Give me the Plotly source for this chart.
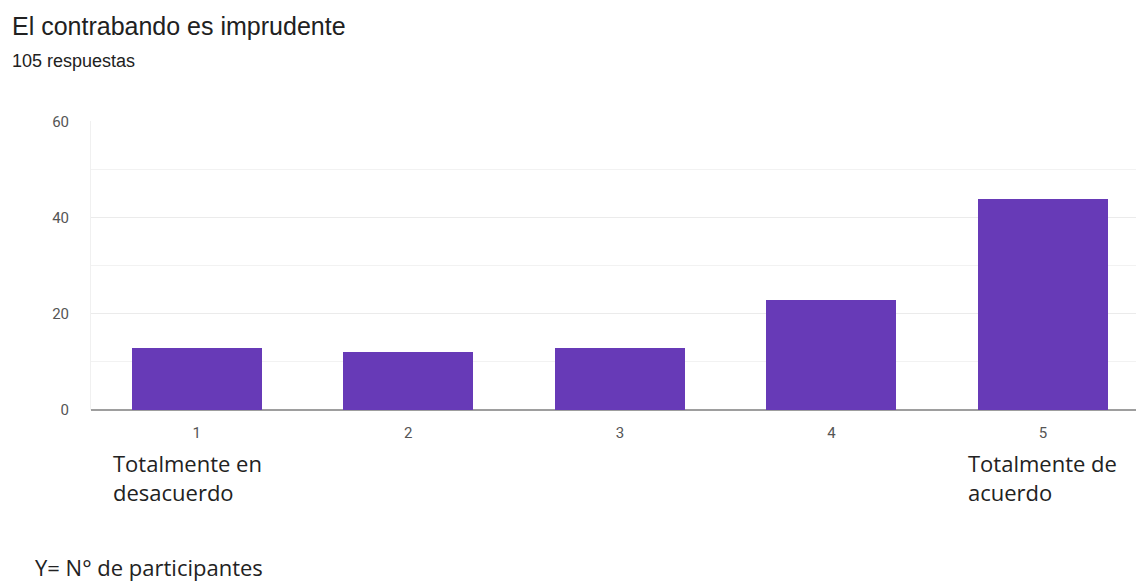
import plotly.graph_objects as go

# Survey responses per scale point
categories = ["1", "2", "3", "4", "5"]
counts = [13, 12, 13, 23, 44]
y_ticks = [0, 20, 40, 60]

fig = go.Figure()
fig.add_trace(go.Bar(
    x=list(range(len(categories))),
    y=counts,
    width=0.615,
    marker=dict(color="#673ab7", line=dict(width=0)),
    hoverinfo="skip",
))

PLOT_H = 410 - 121  # pixel height of plotting area

fig.update_layout(
    width=1136, height=583,
    margin=dict(l=91, r=0, t=121, b=173),
    paper_bgcolor="white", plot_bgcolor="white",
    showlegend=False,
    bargap=0,
    xaxis=dict(
        range=[-0.5, 4.44],
        tickmode="array",
        tickvals=list(range(len(categories))),
        ticktext=categories,
        showgrid=False, zeroline=False, showline=False,
        ticks="", ticklen=0,
        ticklabelstandoff=12,
        tickfont=dict(family="Roboto, Arial", size=15, color="#555555"),
    ),
    yaxis=dict(
        range=[0, 60.2],
        tickvals=y_ticks,
        showgrid=True, gridcolor="#ebebeb", gridwidth=1,
        zeroline=True, zerolinecolor="#9e9e9e", zerolinewidth=2,
        showline=True, linecolor="#f0f0f0", linewidth=1,
        ticks="",
        tickfont=dict(family="Roboto, Arial", size=15, color="#555555"),
        ticklabelstandoff=18,
        minor=dict(showgrid=True, gridcolor="#f2f2f2", gridwidth=1, dtick=10),
    ),
)

PLOT_W = 1136 - 91


def px_x(x):
    return (x - 91) / PLOT_W


def px_y(y):
    return (410 - y) / PLOT_H


text_font = dict(family="Open Sans, Lato", size=22, color="#222222")

fig.add_annotation(text="El contrabando es imprudente", xref="paper", yref="paper",
                   x=px_x(10), y=px_y(26), xanchor="left", yanchor="middle",
                   showarrow=False, font=dict(family="Liberation Sans, Arial", size=25, color="#212121"))
fig.add_annotation(text="105 respuestas", xref="paper", yref="paper",
                   x=px_x(10), y=px_y(61), xanchor="left", yanchor="middle",
                   showarrow=False, font=dict(family="Liberation Sans, Arial", size=18, color="#212121"))

fig.add_annotation(text="Totalmente en<br>desacuerdo", xref="paper", yref="paper",
                   x=px_x(111), y=px_y(477), xanchor="left", yanchor="middle",
                   align="left", showarrow=False, font=text_font)
fig.add_annotation(text="Totalmente de<br>acuerdo", xref="paper", yref="paper",
                   x=px_x(966), y=px_y(477), xanchor="left", yanchor="middle",
                   align="left", showarrow=False, font=text_font)
fig.add_annotation(text="Y= N° de participantes", xref="paper", yref="paper",
                   x=px_x(33), y=px_y(567), xanchor="left", yanchor="middle",
                   showarrow=False, font=text_font)

fig.write_html("out.html")
